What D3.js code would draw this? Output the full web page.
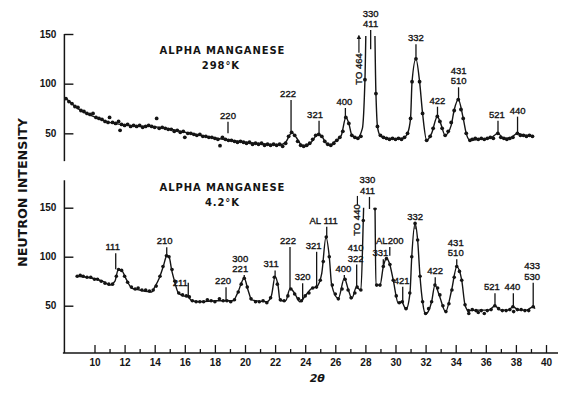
<!DOCTYPE html>
<html>
<head>
<meta charset="utf-8">
<script src="https://cdn.jsdelivr.net/npm/d3@7"></script>
<style>
  body { margin: 0; background: #fff; }
  svg { display: block; }
</style>
</head>
<body>
<div id="chart"></div>
<script>
// ---- 298 K run: drawn curve and measured points (2θ in degrees, counts) ----
const angle298 = [8.05,8.4,8.8,9.2,9.7,10.4,11.0,11.5,12.6,13.7,14.8,15.9,17.0,18.1,19.2,20.3,21.5,22.3,22.7,23.0,
  23.1,23.4,23.7,24.0,24.4,24.85,25.1,25.4,25.65,26.0,26.4,26.7,26.9,27.1,27.45,27.8,27.97,28.35,28.7,28.8,
  28.97,29.3,30.0,30.5,30.8,31.0,31.1,31.36,31.6,31.8,32.07,32.4,32.78,33.0,33.3,33.7,33.9,34.17,34.5,34.7,
  34.95,35.5,36.3,36.8,37.2,37.7,38.1,38.6,39.15];
const count298 = [86,81,76,72,68.5,64,61,59.5,57.5,57,55,51.5,48,45,42.5,40.5,39,38.5,41,49,
  50.5,46,39,37,41,49,47,40,38,42,48,66,60,48,45,55,104,464,90,57,
  48,45,44.5,45,50,65,102,125,102,70,43,50,67,60,48,58,73.5,84,65,50,
  43,44,45,50,45,46,50,48,47.6];

const dotAngle298 = [8.1,8.3,8.5,8.7,8.9,9.1,9.3,9.5,9.7,9.9,10.1,10.3,10.5,10.7,10.9,11.0,11.2,11.4,11.6,11.7,
  11.8,12.0,12.2,12.4,12.6,12.8,13.0,13.2,13.4,13.6,13.8,14.0,14.13,14.3,14.5,14.7,14.9,15.1,15.3,15.5,
  15.7,15.9,16.0,16.2,16.4,16.6,16.8,17.0,17.2,17.4,17.6,17.8,18.0,18.2,18.34,18.5,18.7,18.9,19.1,19.3,
  19.5,19.7,19.9,20.1,20.3,20.5,20.7,20.9,21.1,21.3,21.5,21.7,21.9,22.1,22.3,22.5,22.7,22.9,23.1,23.3,
  23.5,23.7,23.9,24.1,24.3,24.5,24.7,24.9,25.1,25.3,25.5,25.7,25.9,26.1,26.3,26.5,26.7,26.9,27.1,27.3,
  27.5,27.7,27.97,28.7,28.8,29.0,29.2,29.4,29.6,29.8,30.0,30.2,30.4,30.6,30.8,31.0,31.1,31.36,31.6,31.8,
  32.07,32.3,32.5,32.78,32.95,33.1,33.3,33.5,33.7,33.9,34.17,34.35,34.5,34.7,34.95,35.1,35.3,35.5,35.7,35.9,
  36.1,36.3,36.5,36.8,37.0,37.2,37.4,37.6,37.8,38.1,38.3,38.5,38.7,38.9,39.1];
const dotCount298 = [85,82,80,77,76,73,72,70,69,70,66,65,64,62,61,66,61,60,62,53,
  59,58,59,57,58,57,58,56,57,58,57,56,65,55,56,55,54,54,52,53,
  51,52,46,50,50,49,48,49,47,47,46,46,45,44,37.6,46,44,43,43,42,
  41,42,41,40,41,39,40,39,40,38,39,38,39,38,39,37,40,47,51,48,
  42,38,37,38,40,44,48,49,47,42,39,38,40,43,46,52,66,60,48,46,
  45,47,104,90,57,48,46,45,44,45,44,45,44,46,50,65,102,125,102,70,
  43,47,55,67,62,55,48,52,61,73,84,74,65,50,43,44,45,44,45,44,
  45,46,45,50,46,45,44,45,46,50,48,48,47,48,47];

// ---- 4.2 K run ----
const angle42 = [8.82,9.5,10.15,10.6,11.03,11.36,11.58,11.8,12.14,12.47,13.0,13.8,14.0,14.3,14.57,14.8,14.95,15.13,15.3,15.57,
  15.9,16.23,16.46,17.0,18.1,19.2,19.5,19.95,20.2,20.45,21.44,21.75,22.0,22.2,22.33,22.7,23.0,23.3,23.65,24.0,
  24.43,24.76,25.1,25.38,25.6,25.76,26.2,26.6,26.87,27.1,27.4,27.7,27.86,28.3,28.64,28.7,28.97,29.19,29.4,29.63,
  29.85,30.19,30.4,30.7,30.96,31.08,31.3,31.47,31.63,31.8,32.0,32.4,32.62,32.9,33.33,33.73,34.07,34.4,34.62,34.84,
  35.5,36.2,36.6,37.0,37.5,37.8,38.2,38.7,39.15,39.27];
const count42 = [80,79,77,74.5,71,75,87,86,76,68,66,64,69,78,90,100.7,100,86,76,63,
  60,59,55,54,55,55,62.6,78,66,56,54,60,79.6,70,55,55,67.7,62.6,54,60,
  67.7,69.4,83,120,100,71,57.5,78,66,57.5,68.8,66,137.4,440,149,71,71,89.8,98.4,91.5,
  76,52.4,54,46.3,62.6,100,134,117,79.6,54,41.5,54,71,61,44,66,89.8,76,50.7,45,
  45.5,45.5,49.7,45.5,45.5,49,45.5,45.5,49,47];

const dotAngle42 = [8.85,9.05,9.25,9.5,9.75,10.0,10.2,10.45,10.7,10.95,11.2,11.45,11.6,11.8,12.0,12.2,12.45,12.7,12.9,13.15,
  13.4,13.65,13.9,14.1,14.35,14.55,14.78,14.95,15.15,15.35,15.6,15.85,16.1,16.3,16.5,16.75,17.0,17.25,17.5,17.75,
  18.0,18.3,18.55,18.8,19.05,19.3,19.55,19.75,19.95,20.15,20.4,20.7,20.95,21.2,21.45,21.7,21.95,22.15,22.35,22.6,
  22.85,23.05,23.3,23.55,23.75,24.0,24.25,24.5,24.75,25.0,25.2,25.4,25.6,25.8,26.0,26.2,26.45,26.65,26.85,27.05,
  27.3,27.45,27.7,27.86,28.64,28.75,28.97,29.19,29.4,29.63,29.85,30.05,30.25,30.45,30.7,30.95,31.08,31.3,31.47,31.63,
  31.8,32.0,32.2,32.4,32.62,32.8,32.95,33.15,33.35,33.55,33.75,33.9,34.07,34.25,34.4,34.62,34.85,34.87,35.1,35.35,
  35.5,35.7,35.9,36.1,36.35,36.6,36.85,37.1,37.35,37.6,37.8,37.85,38.1,38.35,38.6,38.85,39.15];
const dotCount42 = [80,81,80,79,79,77,77,75,73,72,72,80,87,86,80,74,69,67,68,66,
  66,65,66,70,80,90,101,100,87,75,63,61,60,59,55,54,54,54,56,55,
  54,57,55,55,54,56,64,72,78,69,57,54,54,55,53,58,79,72,56,55,
  60,67,62,57,55,60,63,68,69,76,95,120,100,71,62,57,67,77,66,58,
  63,69,66,137,149,71,71,90,98,92,76,60,53,54,47,63,100,134,117,80,
  54,42,47,54,71,68,61,50,44,52,66,79,90,85,76,51,45,42,46,45,
  43,45,42,45,46,50,47,45,45,46,49,44,46,46,45,45,49];

// ---- reflection labels: name, 2θ, marker top / bottom in counts ----
const hkl298 = ["220","222","321","400","330\n411","332","422","431\n510","521","440"];
const hklAt298 = [18.87,23.06,24.92,26.67,28.35,31.36,32.79,34.19,36.81,38.11];
const hklTop298 = [61.7,83.6,62.7,75.5,154,139.7,76.8,96.4,62.7,66.8];
const hklBase298 = [50,51.7,50,66.5,134.6,125.6,66.8,84.3,50,50];
const hklDx298 = [0,-3,-4,-1,0,0,0,0,-1,0];

const hkl42 = ["111","210","211","220","300\n221","311","222","320","321","AL 111","400","410\n322",
  "330\n411","331","AL200","421","332","422","431\n510","521","440","433\n530"];
const hklAt42 = [11.41,14.8,16.23,18.74,19.95,22.0,22.99,23.83,24.76,25.43,26.6,27.42,
  28.27,29.19,29.62,30.48,31.3,32.64,34.07,36.61,37.83,39.15];
const hklTop42 = [103.5,109.6,73.5,68.8,81.3,86,110,72.9,105,130.6,81.3,92,
  161,97.5,110,69.4,134.7,79,97.3,62.7,62.7,73.5];
const hklBase42 = [87.1,100.7,60,54.8,78.3,79.3,67.8,55.8,69.4,120.4,78,68.8,
  148.7,90.5,101,52.4,128,71.1,89.8,49.7,49,49];
const hklDx42 = [-3,-2,-8,-3,-4,-4,-2,0,-3,-3,-1,-1,-2,-3,0,-1,0,0,-1,-3,-1,-1];
const hklDy42 = [0,0,6,0,0,0,0,0,0,0,0,0,0,0,0,0,0,0,0,0,0,0];

const majorTicks = d3.range(10, 41, 2);
const minorTicks = d3.range(11, 40, 2);
const countTicks = [50, 100, 150];

const ink = "#141414";
const boldFont = "DejaVu Sans, sans-serif";
const labelFont = "Liberation Sans, Arial, sans-serif";

const svg = d3.select("#chart").append("svg")
  .attr("width", 561)
  .attr("height", 394)
  .style("background", "#fff");

const x = d3.scaleLinear().domain([10, 40]).range([94.5, 546]);
const yTop = d3.scaleLinear().domain([0, 150]).range([183, 34]);
const yBot = d3.scaleLinear().domain([0, 150]).range([354.7, 207.7]);

const defs = svg.append("defs");
defs.append("marker")
  .attr("id", "arrow")
  .attr("viewBox", "0 0 10 10")
  .attr("refX", 5).attr("refY", 5)
  .attr("markerWidth", 4).attr("markerHeight", 5)
  .attr("orient", "auto")
  .append("path")
  .attr("d", "M0,0 L10,5 L0,10 z")
  .attr("fill", ink);

function drawPanel(id, y, clipTop, angles, counts, dotAngles, dotCounts, r) {
  const g = svg.append("g");

  defs.append("clipPath").attr("id", id)
    .append("rect")
    .attr("x", x(7.9)).attr("width", x(41) - x(7.9))
    .attr("y", y(clipTop)).attr("height", y(0) - y(clipTop));

  const line = d3.line()
    .x(d => x(d[0]))
    .y(d => y(d[1]))
    .curve(d3.curveMonotoneX);

  g.append("path")
    .datum(d3.zip(angles, counts))
    .attr("clip-path", `url(#${id})`)
    .attr("fill", "none")
    .attr("stroke", ink)
    .attr("stroke-width", 1.4)
    .attr("d", line);

  g.append("g")
    .attr("clip-path", `url(#${id})`)
    .selectAll("circle")
    .data(d3.zip(dotAngles, dotCounts))
    .join("circle")
    .attr("cx", d => x(d[0]))
    .attr("cy", d => y(d[1]))
    .attr("r", r)
    .attr("fill", ink);

  return g;
}

function drawLabels(g, y, names, at, topVals, base, dx, dy) {
  names.forEach((name, i) => {
    const px = x(at[i]);
    g.append("line")
      .attr("x1", px).attr("x2", px)
      .attr("y1", y(topVals[i])).attr("y2", y(base[i]))
      .attr("stroke", ink)
      .attr("stroke-width", 1.3);
    const rows = name.split("\n");
    const t = g.append("text")
      .attr("text-anchor", "middle")
      .attr("font-family", labelFont)
      .attr("font-size", 9.5)
      .attr("fill", ink)
      .attr("stroke", ink)
      .attr("stroke-width", 0.35);
    rows.forEach((r, j) => {
      t.append("tspan")
        .attr("x", px + dx[i])
        .attr("y", y(topVals[i]) - 3 + (dy ? dy[i] : 0) - (rows.length - 1 - j) * 10.5)
        .text(r);
    });
  });
}

function leftAxis(y, from, to) {
  const g = svg.append("g")
    .attr("transform", `translate(${x(8)},0)`)
    .attr("color", ink)
    .attr("font-family", boldFont)
    .attr("font-weight", "bold")
    .attr("font-size", 11.5)
    .call(d3.axisLeft(y).tickValues(countTicks).tickSizeInner(-9).tickSizeOuter(0).tickPadding(8));
  g.select(".domain").remove();
  g.selectAll(".tick line").attr("stroke-width", 1.4);
  g.append("line")
    .attr("y1", y(from)).attr("y2", y(to))
    .attr("stroke", ink)
    .attr("stroke-width", 1.5);
}

// ---- top panel (298 K) ----
const panel298 = drawPanel("clipTop", yTop, 148, angle298, count298, dotAngle298, dotCount298, 1.9);
drawLabels(panel298, yTop, hkl298, hklAt298, hklTop298, hklBase298, hklDx298, null);
leftAxis(yTop, 150, 22);

panel298.append("line")
  .attr("x1", x(27.57)).attr("x2", x(27.57))
  .attr("y1", yTop(131)).attr("y2", yTop(147))
  .attr("stroke", ink)
  .attr("stroke-width", 1.2)
  .attr("marker-end", "url(#arrow)");
panel298.append("text")
  .attr("transform", `translate(${x(27.57) - 0.5},${yTop(114.8)}) rotate(-90)`)
  .attr("text-anchor", "middle")
  .attr("dominant-baseline", "central")
  .attr("font-family", labelFont)
  .attr("font-size", 9.5)
  .attr("fill", ink)
  .attr("stroke", ink)
  .attr("stroke-width", 0.35)
  .text("TO 464");

const title298 = panel298.append("text")
  .attr("text-anchor", "middle")
  .attr("font-family", boldFont)
  .attr("font-weight", "bold")
  .attr("font-size", 10)
  .attr("letter-spacing", 0.9)
  .attr("fill", ink);
title298.append("tspan").attr("x", x(18.5)).attr("y", yTop(130)).text("ALPHA MANGANESE");
title298.append("tspan").attr("x", x(18.4)).attr("y", yTop(115)).text("298°K");

// ---- bottom panel (4.2 K) ----
const panel42 = drawPanel("clipBot", yBot, 150, angle42, count42, dotAngle42, dotCount42, 1.8);
drawLabels(panel42, yBot, hkl42, hklAt42, hklTop42, hklBase42, hklDx42, hklDy42);
leftAxis(yBot, 178, 1.7);

panel42.append("line")
  .attr("x1", x(27.47)).attr("x2", x(27.47))
  .attr("y1", yBot(152.8)).attr("y2", yBot(162))
  .attr("stroke", ink)
  .attr("stroke-width", 1.2);
panel42.append("text")
  .attr("transform", `translate(${x(27.47) - 0.5},${yBot(137.4)}) rotate(-90)`)
  .attr("text-anchor", "middle")
  .attr("dominant-baseline", "central")
  .attr("font-family", labelFont)
  .attr("font-size", 9.5)
  .attr("fill", ink)
  .attr("stroke", ink)
  .attr("stroke-width", 0.35)
  .text("TO 440");

const title42 = panel42.append("text")
  .attr("text-anchor", "middle")
  .attr("font-family", boldFont)
  .attr("font-weight", "bold")
  .attr("font-size", 10)
  .attr("letter-spacing", 0.9)
  .attr("fill", ink);
title42.append("tspan").attr("x", x(18.5)).attr("y", yBot(167)).text("ALPHA MANGANESE");
title42.append("tspan").attr("x", x(18.5)).attr("y", yBot(152)).text("4.2°K");

// ---- x axis ----
const xAxisY = yBot(1.7);
const gx = svg.append("g")
  .attr("transform", `translate(0,${xAxisY})`)
  .attr("color", ink)
  .attr("font-family", boldFont)
  .attr("font-weight", "bold")
  .attr("font-size", 10.5)
  .call(d3.axisBottom(x).tickValues(majorTicks).tickSizeInner(-8).tickSizeOuter(0).tickPadding(6).tickFormat(d3.format("d")));
gx.select(".domain").remove();
gx.selectAll(".tick line").attr("stroke-width", 1.3);

const gxMinor = svg.append("g")
  .attr("transform", `translate(0,${xAxisY})`)
  .attr("color", ink)
  .call(d3.axisBottom(x).tickValues(minorTicks).tickSizeInner(-4).tickSizeOuter(0).tickFormat(""));
gxMinor.select(".domain").remove();
gxMinor.selectAll(".tick line").attr("stroke-width", 1.3);

svg.append("line")
  .attr("x1", x(7.9)).attr("x2", x(40.8))
  .attr("y1", xAxisY).attr("y2", xAxisY)
  .attr("stroke", ink)
  .attr("stroke-width", 1.5);

svg.append("text")
  .attr("x", x(24.8))
  .attr("y", 382)
  .attr("text-anchor", "middle")
  .attr("font-family", boldFont)
  .attr("font-weight", "bold")
  .attr("font-style", "italic")
  .attr("font-size", 11)
  .attr("fill", ink)
  .text("2θ");

svg.append("text")
  .attr("transform", "translate(27,192.5) rotate(-90)")
  .attr("text-anchor", "middle")
  .attr("font-family", boldFont)
  .attr("font-weight", "bold")
  .attr("font-size", 13)
  .attr("textLength", 149)
  .attr("lengthAdjust", "spacingAndGlyphs")
  .attr("fill", ink)
  .text("NEUTRON INTENSITY");
</script>
</body>
</html>
